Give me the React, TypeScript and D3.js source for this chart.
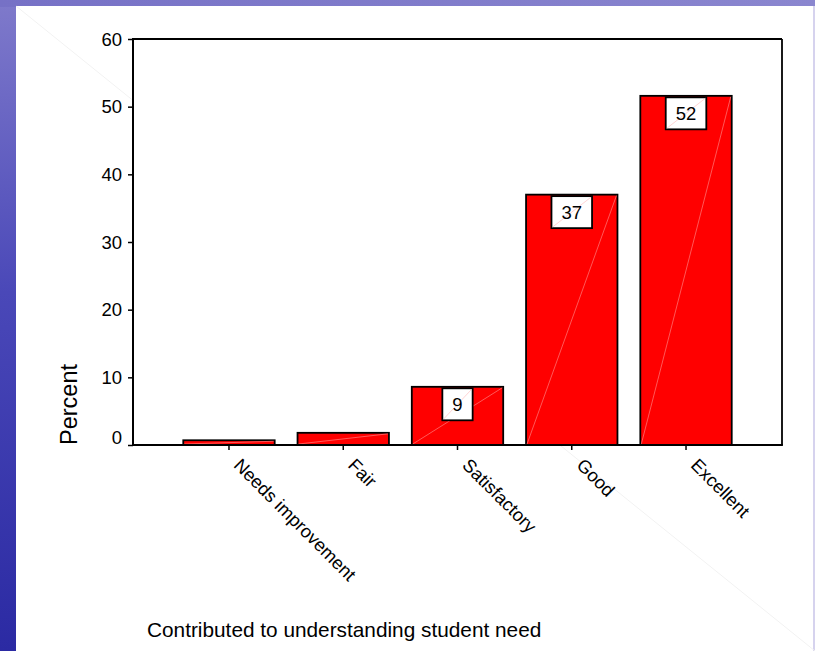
import React from "react";
import * as d3 from "d3";

// Survey responses: "Contributed to understanding student need"
const categories = ["Needs improvement", "Fair", "Satisfactory", "Good", "Excellent"];
const percents = [0.7, 1.8, 8.6, 37.0, 51.6];
// Bars that carry a value box
const labelled = [false, false, true, true, true];
const yTicks = [0, 10, 20, 30, 40, 50, 60];

const W = 815;
const H = 651;
const FONT = "'Liberation Sans', Arial, sans-serif";

const plot = { left: 133, right: 782, top: 39, bottom: 445 };

export default function App() {
  const x = d3
    .scaleBand<string>()
    .domain(categories)
    .range([plot.left, plot.right])
    .paddingInner(0.2)
    .paddingOuter(0.44);
  const y = d3.scaleLinear().domain([0, 60]).range([plot.bottom, plot.top]);
  const fmt = d3.format(".0f");

  const yAxisRef = React.useRef<SVGGElement>(null);
  const xAxisRef = React.useRef<SVGGElement>(null);

  React.useEffect(() => {
    document.body.style.margin = "0";
    const ya = d3.select(yAxisRef.current!);
    ya.call(d3.axisLeft(y).tickValues(yTicks).tickSize(5).tickPadding(6).tickFormat(d3.format("d")));
    ya.select(".domain").remove();
    ya.selectAll("line").attr("stroke", "#000").attr("stroke-width", 1.5);
    ya.selectAll<SVGTextElement, number>("text")
      .attr("font-family", FONT)
      .attr("font-size", 18.5)
      .attr("fill", "#000")
      .attr("dy", "0.34em")
      // the zero label sits a little above its tick, clear of the category axis
      .attr("y", (d) => (d === 0 ? -8 : 0));

    const xa = d3.select(xAxisRef.current!);
    xa.call(d3.axisBottom(x).tickSize(5).tickFormat(() => ""));
    xa.select(".domain").remove();
    xa.selectAll("line").attr("stroke", "#000").attr("stroke-width", 1.5);
  }, []);

  const labelFont = 18.5;
  const catFont = 18.3;

  return (
    <svg width={W} height={H} style={{ display: "block" }}>
      <defs>
        <linearGradient id="leftBand" x1="0" y1="0" x2="0" y2="1">
          <stop offset="0" stopColor="#7f7acb" />
          <stop offset="0.45" stopColor="#4a48b8" />
          <stop offset="1" stopColor="#2b2aa3" />
        </linearGradient>
        <linearGradient id="topBand" x1="0" y1="0" x2="1" y2="0">
          <stop offset="0" stopColor="#7671c6" />
          <stop offset="1" stopColor="#8a86cf" />
        </linearGradient>
      </defs>

      {/* slide backdrop */}
      <rect x={0} y={0} width={W} height={H} fill="url(#leftBand)" />
      <rect x={0} y={0} width={W} height={7} fill="url(#topBand)" />
      <rect x={16} y={6} width={W - 16} height={H - 6} fill="#ffffff" />
      <rect x={813} y={6} width={2} height={H - 6} fill="#d6d3ee" />
      <line x1={16} y1={6} x2={W} y2={H} stroke="#f2f2f2" strokeWidth={1} />

      {/* plot area */}
      <rect
        x={plot.left}
        y={plot.top}
        width={plot.right - plot.left}
        height={plot.bottom - plot.top}
        fill="#ffffff"
      />

      {/* bars */}
      {categories.map((c, i) => {
        const x0 = x(c)!;
        const bw = x.bandwidth();
        const yt = y(percents[i]);
        return (
          <g key={c}>
            <rect
              x={x0}
              y={yt}
              width={bw}
              height={plot.bottom - yt}
              fill="#ff0000"
              stroke="#000"
              strokeWidth={1.8}
            />
            <line
              x1={x0 + 1}
              y1={plot.bottom - 1}
              x2={x0 + bw - 1}
              y2={yt + 1}
              stroke="#ff8a8a"
              strokeWidth={0.8}
              opacity={0.8}
            />
          </g>
        );
      })}

      {/* value boxes */}
      {categories.map((c, i) => {
        if (!labelled[i]) return null;
        const txt = fmt(percents[i]);
        const tw = txt.length * 0.556 * labelFont;
        const bw = tw + 20;
        const bh = 32;
        const cx = x(c)! + x.bandwidth() / 2;
        const top = y(percents[i]) + 1.5;
        return (
          <g key={"lbl" + c}>
            <rect
              x={cx - bw / 2}
              y={top}
              width={bw}
              height={bh}
              fill="#ffffff"
              stroke="#000"
              strokeWidth={1.8}
            />
            <line
              x1={cx - bw / 2 + 1}
              y1={top + bh - 1}
              x2={cx + bw / 2 - 1}
              y2={top + 1}
              stroke="#ffc2c2"
              strokeWidth={0.7}
            />
            <text
              x={cx}
              y={top + bh / 2}
              dy="0.36em"
              textAnchor="middle"
              fontFamily={FONT}
              fontSize={labelFont}
              fill="#000"
            >
              {txt}
            </text>
          </g>
        );
      })}

      {/* frame and axes */}
      <line x1={plot.left} y1={plot.top} x2={plot.right} y2={plot.top} stroke="#000" strokeWidth={1.8} />
      <line x1={plot.right} y1={plot.top} x2={plot.right} y2={plot.bottom} stroke="#000" strokeWidth={1.8} />
      <line x1={plot.left} y1={plot.top - 0.9} x2={plot.left} y2={plot.bottom + 1} stroke="#000" strokeWidth={2} />
      <line x1={plot.left} y1={plot.bottom} x2={plot.right + 0.9} y2={plot.bottom} stroke="#000" strokeWidth={2} />

      <g ref={yAxisRef} transform={`translate(${plot.left},0)`} />
      <g ref={xAxisRef} transform={`translate(0,${plot.bottom})`} />

      {/* category labels */}
      {categories.map((c) => {
        const cx = x(c)! + x.bandwidth() / 2;
        return (
          <text
            key={"cat" + c}
            transform={`translate(${cx + 13},${plot.bottom + 12}) rotate(45)`}
            dy="0.72em"
            textAnchor="start"
            fontFamily={FONT}
            fontSize={catFont}
            fill="#000"
          >
            {c}
          </text>
        );
      })}

      {/* axis titles */}
      <text
        transform={`translate(77,${plot.bottom}) rotate(-90)`}
        textAnchor="start"
        fontFamily={FONT}
        fontSize={23.5}
        fill="#000"
      >
        Percent
      </text>
      <text
        x={147}
        y={637}
        textAnchor="start"
        fontFamily={FONT}
        fontSize={20.8}
        fill="#000"
      >
        Contributed to understanding student need
      </text>
    </svg>
  );
}
